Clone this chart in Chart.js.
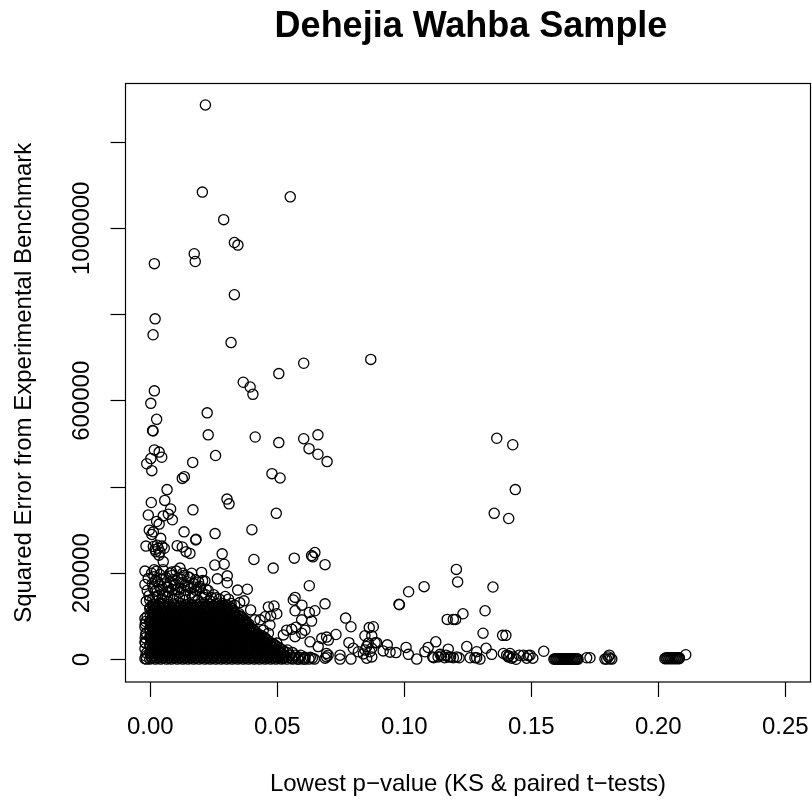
<!DOCTYPE html>
<html>
<head>
<meta charset="utf-8">
<title>Dehejia Wahba Sample</title>
<script src="https://cdn.jsdelivr.net/npm/chart.js@4"></script>
<style>
  html, body { margin: 0; padding: 0; background: #fff; overflow: hidden; }
  #chart { display: block; }
</style>
</head>
<body>
<canvas id="chart" width="812" height="802"></canvas>
<script>
// tick values and labels (R leaves out the ones that would overlap)
const xTicks = [0, 0.05, 0.10, 0.15, 0.20, 0.25];
const xTickLabels = ['0.00', '0.05', '0.10', '0.15', '0.20', '0.25'];
const yTicks = [0, 200000, 400000, 600000, 800000, 1000000, 1200000];
const yTickLabels = ['0', '200000', '', '600000', '', '1000000', ''];

// points that can be read one by one
const pValues = [
  .0217,.0205,.0551,.0289,.0331,.0345,.0173,.0177,.0016,.0331,
  .0019,.0011,.0318,.0604,.0868,.0506,.0366,.0393,.0404,.0016,
  .0002,.0025,.0009,.0011,.0224,.0228,.0413,.0506,.0604,.0660,
  .0625,.0660,.0696,.0479,.0511,.0016,.0035,.0045,.0002,-.0014,
  .0006,.0167,.0257,.0134,.0126,.0066,.0057,.0004,.0080,-.0008,
  .0168,.0302,.0310,.0496,.0400,.0255,.0133,.0180,.0051,.0071,
  .0087,.0025,.0035,-.0004,.0012,.0006,.0041,-.0017,.0012,.0031,
  .0055,.0022,.0106,.0126,.0141,.0156,.0283,.0408,.0567,.0648,
  .0635,.0640,.0179,.0254,.0291,.0484,.0688,.0626,.0688,.0570,
  .0563,.0597,.0570,.0648,.0626,.0635,.0769,.0790,.0782,.0661,
  .0395,.0369,.0382,.0344,.0303,.0303,.0264,.0215,.0206,.0202,
  .0163,-.0021,-.0021,.0015,.0117,.0084,.0051,.0019,.0027,.0038,
  .0046,.0034,.0574,.0596,.0537,.0557,.0609,.0596,.0570,.0524,
  .0629,.0498,.0675,.0694,.0731,.0701,.0799,.0819,.0839,.0862,
  .0878,.0845,.0872,.0858,.0885,.0845,.0865,.0852,.0872,.0694,
  .0688,.0694,.0700,.0747,.0747,.0790,.0638,.0609,.0583,.0557,
  .0524,.0498,.0465,.0487,.0498,.0474,.0452,.0432,.0412,.0471,
  .0445,.0465,.1205,.1210,.1349,.1078,.1017,.0979,.0981,.1231,
  .1318,.1169,.1193,.1202,.1310,.1387,.1400,.0933,.1007,.1124,
  .1094,.1246,.1322,.1285,.1344,.1549,.1173,.1016,.0917,.0944,
  .0967,.1049,.1081,.0852,.0872,.1116,.1133,.1146,.1159,.1173,
  .1182,.1193,.1206,.1216,.1141,.1164,.1112,.1259,.1278,.1298,
  .1285,.1390,.1403,.1416,.1412,.1429,.1440,.1453,.1469,.1488,
  .1482,.1506,.1495,.1423,.1409,.1790,.1803,.1810,.1817,.1807,
  .1797,.1718,.1731,.2108,.1364,.1427,.1437,.1354,.1411,.0891,
  .0005,.0025,.0050,.0078,.0102,.0128,.0148,-.0008,.0015,.0038,
  .0062,.0085,.0108,.0132,.0155,.0178,.0190,-.0012,.0008,.0030,
  .0055,.0078,.0100,.0125,.0145,.0170,.0195,.0220,-.0005,.0018,
  .0042,.0065,.0088,.0112,.0135,.0158,.0180,.0205,.0228,.0250,
  .0272,.0295,.0318,-.0016,-.0002,.0022,.0045,.0068,.0092,.0115,
  .0140,.0165,.0188,.0212,.0235,.0260,.0285,.0308,.0332,.0352,
  .0012,.0035,.0058,.0071,.0094,.0118,.0137,.0160,.0175,.0197,
  .0218,.0240,.0262,.0010,.0033,.0049,.0074,.0097,.0120,.0142,
  .0163,.0185,.0208,.0232,.0255,.0278,.0300,.0020,.0043,.0066,
  .0090,.0105,.0122,.0150,.0172,.0028,.0010,.0038,.0072,.0095,
  -.0021,-.0018,-.0021,-.0016,-.0020,-.0019,-.0021,-.0015,-.0018,-.0021
];
const squaredErrors = [
  1286000,1084000,1073000,1020000,967000,961000,941000,923000,918000,846000,
  790000,753000,735000,687000,696000,663000,643000,632000,615000,623000,
  594000,557000,531000,530000,572000,521000,516000,503000,512000,521000,
  489000,476000,459000,431000,421000,486000,481000,469000,466000,454000,
  438000,457000,473000,424000,420000,394000,369000,364000,349000,335000,
  347000,372000,361000,339000,301000,292000,296000,279000,333000,337000,
  324000,320000,314000,300000,296000,290000,281000,263000,262000,258000,
  258000,250000,264000,261000,250000,246000,245000,232000,235000,248000,
  241000,238000,277000,219000,221000,212000,220000,171000,129000,144000,
  138000,126000,113000,113000,109000,89000,96000,76000,39000,30000,
  115000,136000,163000,161000,194000,178000,187000,182000,183000,202000,
  200000,205000,174000,208000,212000,203000,227000,255000,265000,249000,
  263000,242000,75000,92000,68000,70000,68000,61000,53000,57000,
  41000,38000,49000,52000,58000,45000,26000,18000,13000,74000,
  76000,55000,55000,38000,39000,22000,18000,3000,6000,14000,
  3000,6000,10000,10000,1000,1000,3000,1000,1000,3000,
  3000,6000,122000,124000,106000,101000,99000,92000,92000,80000,
  68000,61000,209000,180000,168000,169000,157000,128000,127000,106000,
  113000,93000,93000,93000,61000,56000,56000,34000,28000,41000,
  28000,30000,26000,18000,12000,19000,24000,12000,20000,17000,
  16000,1000,18000,30000,26000,4000,6000,8000,4000,6000,
  6000,4000,6000,4000,12000,10000,6000,4000,4000,1000,
  4000,14000,10000,14000,8000,6000,500,10000,10000,9000,
  3000,3000,10000,3000,6000,1000,6000,2000,1000,10000,
  1000,4000,4000,11000,513000,498000,394000,339000,327000,39000,
  200000,205000,208000,200000,205000,200000,192000,188000,192000,197000,
  190000,195000,188000,195000,190000,185000,180000,160000,175000,180000,
  175000,180000,175000,178000,172000,176000,170000,163000,148000,158000,
  162000,156000,162000,156000,160000,154000,160000,154000,160000,150000,
  140000,146000,130000,135000,138000,144000,138000,146000,138000,145000,
  138000,144000,137000,144000,136000,143000,130000,140000,126000,132000,
  166000,170000,150000,168000,152000,165000,150000,165000,148000,166000,
  150000,144000,130000,128000,130000,152000,128000,127000,130000,127000,
  128000,127000,128000,129000,128000,126000,126000,183000,186000,168000,
  185000,162000,186000,168000,168000,148000,140000,128000,158000,172000,
  95000,88000,75000,62000,50000,38000,25000,15000,8000,2000
];

// the black mass near the origin and the two runs along the bottom, one squared error per row
const rowErrors = [
  124000,121000,118000,115000,112000,109000,106000,103000,100000,97000,94000,91000,88000,85000,82000,79000,76000,73000,70000,67000,
  64000,61000,58000,55000,52000,49000,46000,43000,40000,37000,34000,31000,28000,25000,22000,19000,16000,13000,10000,7000,5000,3000,1000,
  500,2000,2000,4000
];
const rowValues = [
  [.0010,.0030,.0053,.0074,.0095,.0117,.0139,.0160,.0181,.0204,.0225,.0247,.0268,.0290,.0311],
  [.0000,.0021,.0043,.0065,.0086,.0108,.0129,.0151,.0172,.0194,.0216,.0237,.0259,.0280,.0302],
  [-.0002,.0020,.0041,.0064,.0083,.0106,.0128,.0149,.0171,.0192,.0215,.0236,.0258,.0279,.0301,.0322],
  [.0016,.0037,.0059,.0081,.0102,.0124,.0145,.0167,.0188,.0210,.0232,.0253,.0275,.0296,.0318],
  [.0004,.0025,.0047,.0069,.0090,.0112,.0133,.0155,.0176,.0198,.0220,.0241,.0263,.0284,.0306,.0328],
  [.0007,.0028,.0050,.0072,.0093,.0115,.0136,.0158,.0179,.0201,.0223,.0244,.0266,.0287,.0309,.0331],
  [.0010,.0030,.0053,.0074,.0095,.0117,.0139,.0160,.0181,.0204,.0225,.0247,.0268,.0290,.0311,.0333,.0350],
  [.0000,.0021,.0043,.0065,.0086,.0108,.0129,.0151,.0172,.0194,.0216,.0237,.0259,.0280,.0302,.0324,.0345],
  [-.0012,.0015,.0036,.0058,.0079,.0101,.0122,.0144,.0166,.0187,.0209,.0230,.0252,.0273,.0295,.0317,.0338,.0358],
  [.0016,.0037,.0059,.0081,.0102,.0124,.0145,.0167,.0188,.0210,.0232,.0253,.0275,.0296,.0318,.0340,.0361],
  [.0004,.0025,.0047,.0069,.0090,.0112,.0133,.0155,.0176,.0198,.0220,.0241,.0263,.0284,.0306,.0328,.0349,.0367],
  [.0007,.0028,.0050,.0072,.0093,.0115,.0136,.0158,.0179,.0201,.0223,.0244,.0266,.0287,.0309,.0331,.0352,.0374],
  [-.0002,.0020,.0041,.0064,.0083,.0106,.0128,.0149,.0171,.0192,.0215,.0236,.0258,.0279,.0301,.0322,.0344,.0366,.0378],
  [.0000,.0021,.0043,.0065,.0086,.0108,.0129,.0151,.0172,.0194,.0216,.0237,.0259,.0280,.0302,.0324,.0345,.0367,.0380],
  [-.0020,.0010,.0030,.0053,.0074,.0095,.0117,.0139,.0160,.0181,.0204,.0225,.0247,.0268,.0290,.0311,.0333,.0355,.0376,.0388],
  [.0016,.0037,.0059,.0081,.0102,.0124,.0145,.0167,.0188,.0210,.0232,.0253,.0275,.0296,.0318,.0340,.0361,.0383],
  [.0004,.0025,.0047,.0069,.0090,.0112,.0133,.0155,.0176,.0198,.0220,.0241,.0263,.0284,.0306,.0328,.0349,.0371,.0392],
  [.0007,.0028,.0050,.0072,.0093,.0115,.0136,.0158,.0179,.0201,.0223,.0244,.0266,.0287,.0309,.0331,.0352,.0374,.0395],
  [-.0002,.0020,.0041,.0064,.0083,.0106,.0128,.0149,.0171,.0192,.0215,.0236,.0258,.0279,.0301,.0322,.0344,.0366,.0387,.0405],
  [.0000,.0021,.0043,.0065,.0086,.0108,.0129,.0151,.0172,.0194,.0216,.0237,.0259,.0280,.0302,.0324,.0345,.0367,.0388,.0410],
  [.0010,.0030,.0053,.0074,.0095,.0117,.0139,.0160,.0181,.0204,.0225,.0247,.0268,.0290,.0311,.0333,.0355,.0376,.0398,.0415],
  [.0016,.0037,.0059,.0081,.0102,.0124,.0145,.0167,.0188,.0210,.0232,.0253,.0275,.0296,.0318,.0340,.0361,.0383,.0404,.0420],
  [-.0018,.0004,.0025,.0047,.0069,.0090,.0112,.0133,.0155,.0176,.0198,.0220,.0241,.0263,.0284,.0306,.0328,.0349,.0371,.0392,.0414,.0428],
  [.0007,.0028,.0050,.0072,.0093,.0115,.0136,.0158,.0179,.0201,.0223,.0244,.0266,.0287,.0309,.0331,.0352,.0374,.0395,.0417,.0439],
  [-.0002,.0020,.0041,.0064,.0083,.0106,.0128,.0149,.0171,.0192,.0215,.0236,.0258,.0279,.0301,.0322,.0344,.0366,.0387,.0409,.0430,.0448],
  [.0000,.0021,.0043,.0065,.0086,.0108,.0129,.0151,.0172,.0194,.0216,.0237,.0259,.0280,.0302,.0324,.0345,.0367,.0388,.0410,.0432,.0453],
  [.0010,.0030,.0053,.0074,.0095,.0117,.0139,.0160,.0181,.0204,.0225,.0247,.0268,.0290,.0311,.0333,.0355,.0376,.0398,.0419,.0441,.0458],
  [.0016,.0037,.0059,.0081,.0102,.0124,.0145,.0167,.0188,.0210,.0232,.0253,.0275,.0296,.0318,.0340,.0361,.0383,.0404,.0426,.0448,.0460],
  [-.0021,.0004,.0025,.0047,.0069,.0090,.0112,.0133,.0155,.0176,.0198,.0220,.0241,.0263,.0284,.0306,.0328,.0349,.0371,.0392,.0414,.0436,.0457,.0472],
  [.0007,.0028,.0050,.0072,.0093,.0115,.0136,.0158,.0179,.0201,.0223,.0244,.0266,.0287,.0309,.0331,.0352,.0374,.0395,.0417,.0439,.0460,.0482],
  [-.0002,.0020,.0041,.0064,.0083,.0106,.0128,.0149,.0171,.0192,.0215,.0236,.0258,.0279,.0301,.0322,.0344,.0366,.0387,.0409,.0430,.0452,.0474,.0490],
  [.0000,.0021,.0043,.0065,.0086,.0108,.0129,.0151,.0172,.0194,.0216,.0237,.0259,.0280,.0302,.0324,.0345,.0367,.0388,.0410,.0432,.0453,.0475,.0496],
  [.0010,.0030,.0053,.0074,.0095,.0117,.0139,.0160,.0181,.0204,.0225,.0247,.0268,.0290,.0311,.0333,.0355,.0376,.0398,.0419,.0441,.0463,.0484,.0506],
  [.0016,.0037,.0059,.0081,.0102,.0124,.0145,.0167,.0188,.0210,.0232,.0253,.0275,.0296,.0318,.0340,.0361,.0383,.0404,.0426,.0448,.0469,.0491,.0512],
  [.0004,.0025,.0047,.0069,.0090,.0112,.0133,.0155,.0176,.0198,.0220,.0241,.0263,.0284,.0306,.0328,.0349,.0371,.0392,.0414,.0436,.0457,.0479,.0500,.0522,.0540],
  [.0007,.0028,.0050,.0072,.0093,.0115,.0136,.0158,.0179,.0201,.0223,.0244,.0266,.0287,.0309,.0331,.0352,.0374,.0395,.0417,.0439,.0460,.0482,.0503,.0525],
  [-.0002,.0020,.0041,.0064,.0083,.0106,.0128,.0149,.0171,.0192,.0215,.0236,.0258,.0279,.0301,.0322,.0344,.0366,.0387,.0409,.0430,.0452,.0474,.0495,.0517,.0538,.0560],
  [.0000,.0021,.0043,.0065,.0086,.0108,.0129,.0151,.0172,.0194,.0216,.0237,.0259,.0280,.0302,.0324,.0345,.0367,.0388,.0410,.0432,.0453,.0475,.0496,.0518],
  [.0010,.0030,.0053,.0074,.0095,.0117,.0139,.0160,.0181,.0204,.0225,.0247,.0268,.0290,.0311,.0333,.0355,.0376,.0398,.0419,.0441,.0463,.0484,.0506,.0527,.0549,.0570,.0592],
  [.0016,.0037,.0059,.0081,.0102,.0124,.0145,.0167,.0188,.0210,.0232,.0253,.0275,.0296,.0318,.0340,.0361,.0383,.0404,.0426,.0448,.0469,.0491,.0512,.0534],
  [.0004,.0025,.0047,.0069,.0090,.0112,.0133,.0155,.0176,.0198,.0220,.0241,.0263,.0284,.0306,.0328,.0349,.0371,.0392,.0414,.0436,.0457,.0479,.0500,.0522,.0543,.0565,.0587,.0608,.0630],
  [.0007,.0028,.0050,.0072,.0093,.0115,.0136,.0158,.0179,.0201,.0223,.0244,.0266,.0287,.0309,.0331,.0352,.0374,.0395,.0417,.0439,.0460,.0482,.0503,.0525],
  [-.0015,-.0002,.0020,.0041,.0064,.0083,.0106,.0128,.0149,.0171,.0192,.0215,.0236,.0258,.0279,.0301,.0322,.0344,.0366,.0387,.0409,.0430,.0452,.0474,.0495,.0517,.0538,.0560,.0581,.0603,.0625,.0646],
  [.1589,.1597,.1605,.1613,.1621,.1629,.1637,.1645,.1653,.1661,.1669,.1677,.1684],
  [.1593,.1601,.1609,.1617,.1625,.1633,.1641,.1649,.1657,.1665,.1673,.1681],
  [.2026,.2034,.2042,.2050,.2058,.2066,.2074,.2082],
  [.2030,.2038,.2046,.2054,.2062,.2070,.2078,.2083]
];

const points = pValues.map((p, i) => ({ x: p, y: squaredErrors[i] }));
rowValues.forEach((row, i) => {
  row.forEach(p => points.push({ x: p, y: rowErrors[i] }));
});

// box drawn round the plot region, as R's box() does
const plotBox = {
  id: 'plotBox',
  beforeDatasetsDraw(chart) {
    const { ctx, chartArea: a } = chart;
    ctx.save();
    ctx.strokeStyle = '#000';
    ctx.lineWidth = 1.2;
    ctx.strokeRect(a.left, a.top, a.right - a.left, a.bottom - a.top);
    ctx.restore();
  },
  // the main title sits a little right of the plot centre
  afterLayout(chart) {
    chart.titleBlock.left += 6;
  }
};

const labelFont = { family: '"Liberation Sans", Arial, sans-serif', size: 24 };

new Chart(document.getElementById('chart'), {
  type: 'scatter',
  data: {
    datasets: [{
      data: points,
      showLine: false,
      pointStyle: 'circle',
      pointRadius: 5.1,
      pointBorderWidth: 1.3,
      pointBorderColor: '#000',
      pointBackgroundColor: 'rgba(0,0,0,0)'
    }]
  },
  plugins: [plotBox],
  options: {
    responsive: false,
    animation: false,
    layout: { autoPadding: false, padding: { right: 1.5 } },
    plugins: {
      legend: { display: false },
      tooltip: { enabled: false },
      title: {
        display: true,
        fullSize: false,
        text: 'Dehejia Wahba Sample',
        color: '#000',
        font: { family: labelFont.family, size: 36, weight: 'bold' },
        padding: { top: 5.4, bottom: 34.9 }
      }
    },
    scales: {
      x: {
        type: 'linear',
        min: -0.00976,
        max: 0.25992,
        afterBuildTicks: scale => { scale.ticks = xTicks.map(v => ({ value: v })); },
        afterFit: scale => { scale.height = 120; scale.paddingLeft = 0; scale.paddingRight = 0; },
        grid: { drawOnChartArea: false, drawTicks: true, tickLength: 15, tickWidth: 1.2, tickColor: '#000' },
        border: { display: false },
        ticks: {
          autoSkip: false,
          maxRotation: 0,
          padding: 16,
          color: '#000',
          font: labelFont,
          callback: (value, i) => xTickLabels[i]
        },
        title: {
          display: true,
          text: 'Lowest p\u2212value (KS & paired t\u2212tests)',
          color: '#000',
          font: labelFont,
          padding: { top: 4, bottom: 3.6 }
        }
      },
      y: {
        type: 'linear',
        min: -52180,
        max: 1335800,
        afterBuildTicks: scale => { scale.ticks = yTicks.map(v => ({ value: v })); },
        afterFit: scale => { scale.width = 125.5; scale.paddingTop = 0; scale.paddingBottom = 0; },
        grid: { drawOnChartArea: false, drawTicks: true, tickLength: 15, tickWidth: 1.2, tickColor: '#000' },
        border: { display: false },
        ticks: {
          autoSkip: false,
          minRotation: 90,
          maxRotation: 90,
          crossAlign: 'center',
          padding: -18.2,
          color: '#000',
          font: labelFont,
          callback: (value, i) => yTickLabels[i]
        },
        title: {
          display: true,
          text: 'Squared Error from Experimental Benchmark',
          color: '#000',
          font: labelFont,
          padding: { top: 9.6, bottom: 4 }
        }
      }
    }
  }
});
</script>
</body>
</html>
